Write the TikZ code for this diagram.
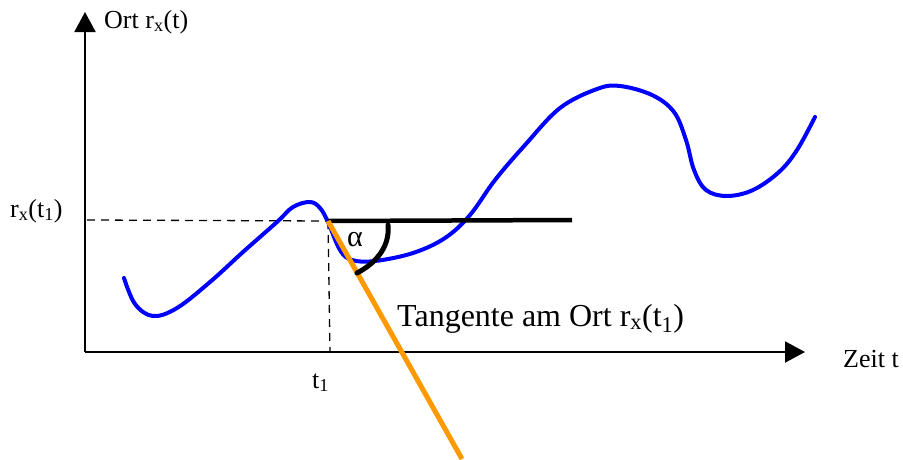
\documentclass[tikz,border=0pt]{standalone}
\usepackage{fontspec}
\setmainfont{Liberation Serif}
\usepackage{tikz}
\usetikzlibrary{arrows.meta,positioning}
\definecolor{curveblue}{RGB}{0,0,255}
\definecolor{tangorange}{RGB}{255,153,0}
\tikzset{
  axis/.style={line width=2pt, draw=black, -{Triangle[length=20pt,width=21pt]}},
  helpline/.style={line width=1.3pt, dash pattern=on 8pt off 6pt},
  pathcurve/.style={line width=4pt, draw=curveblue, line cap=round, line join=round},
  tangline/.style={line width=4.5pt, draw=black},
  slopeline/.style={line width=5pt, draw=tangorange},
  anglearc/.style={line width=5pt, draw=black, line cap=round},
  lbl/.style={font=\fontsize{26}{30}\selectfont, inner sep=0pt, anchor=base west},
  lblbig/.style={font=\fontsize{32}{36}\selectfont, inner sep=0pt, anchor=base west},
}
\begin{document}
\begin{tikzpicture}[x=1pt, y=-1pt]
  \useasboundingbox (0,0) rectangle (903,459);
  % ---- axes ----
  \coordinate (origin) at (85,352);
  \coordinate (ytop) at (85,12);
  \coordinate (xend) at (805,352);
  \draw[axis] (origin) -- (ytop);
  \draw[axis] (origin) -- (xend);
  \node[lbl] (ylabel) at (104,28) {Ort r\textsubscript{x}(t)};
  \node[lbl] (xlabel) at (843,367) {Zeit t};

  % ---- point t1 ----
  \coordinate (p1) at (328,221);
  \coordinate (yp1) at (87,220);
  \coordinate (xp1) at (330,351);
  \draw[helpline] (yp1) -- (p1);
  \draw[helpline] (p1) -- (xp1);
  \node[lbl] (rlabel) at (10,217) {r\textsubscript{x}(t\textsubscript{1})};
  \node[lbl] (tlabel) at (312,388) {t\textsubscript{1}};

  % ---- position curve ----
  \draw[pathcurve] plot[smooth, tension=0.6] coordinates {
    (124,278) (135,304) (153,316) (177,308) (210,282) (243,252) (277,222)
    (293,207) (310,202) (320,208) (328,222) (340,250) (352,260) (375,261)
    (413,253) (445,238) (470,215) (495,180) (525,145) (560,108)
    (597,89) (620,86) (652,95) (674,112) (686,140) (694,170) (706,190)
    (727,196) (753,190) (779,172) (797,150) (815,117)};

  % ---- tangent ----
  \coordinate (hend) at (572,220);
  \coordinate (tend) at (462,459);
  \draw[tangline] (p1) -- (hend);
  \draw[slopeline] (p1) -- (tend);
  \coordinate (arcA) at (388,225);
  \coordinate (arcB) at (357,273);
  \draw[anglearc] (arcA) .. controls (390,245) and (378,262) .. (arcB);
  \node[font=\fontsize{30}{34}\selectfont, inner sep=0pt] (alpha) at (355,240) {α};
  \node[lblbig] (tanlabel) at (397,326) {Tangente am Ort r\textsubscript{x}(t\textsubscript{1})};
\end{tikzpicture}
\end{document}
